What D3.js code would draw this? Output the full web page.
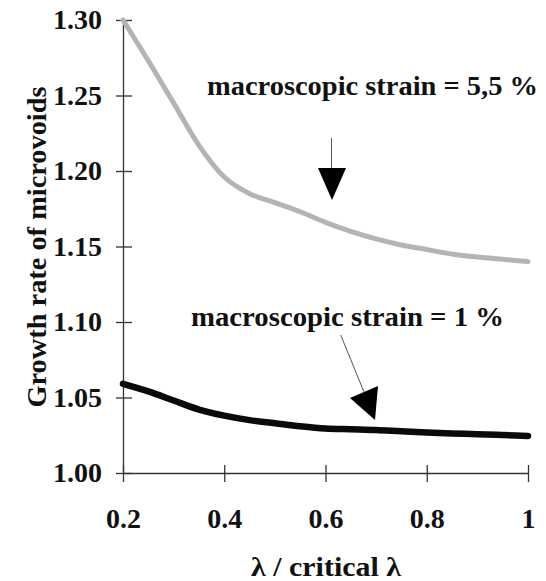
<!DOCTYPE html>
<html>
<head>
<meta charset="utf-8">
<script src="https://cdn.jsdelivr.net/npm/d3@7"></script>
<style>
  body { margin: 0; background: #fff; }
  svg { display: block; }
  text { font-family: "Liberation Serif", "Times New Roman", serif; font-weight: bold; fill: #111; }
</style>
</head>
<body>
<svg id="chart" width="546" height="581"></svg>
<script>
// ---- data ----
const lambdaRatio = [0.2, 0.25, 0.3, 0.35, 0.4, 0.45, 0.5, 0.55, 0.6, 0.65, 0.7, 0.75, 0.8, 0.85, 0.9, 0.95, 1.0];
const strain55 = [1.300, 1.273, 1.245, 1.217, 1.196, 1.185, 1.179, 1.173, 1.166, 1.160, 1.155, 1.151, 1.148, 1.145, 1.143, 1.1415, 1.140];
const strain1  = [1.059, 1.054, 1.048, 1.042, 1.038, 1.035, 1.033, 1.031, 1.0295, 1.029, 1.0285, 1.0276, 1.0268, 1.0262, 1.0257, 1.0251, 1.0245];
const xTicks = [0.2, 0.4, 0.6, 0.8, 1.0];
const xTickLabels = ["0.2", "0.4", "0.6", "0.8", "1"];
const yTicks = [1.00, 1.05, 1.10, 1.15, 1.20, 1.25, 1.30];
const yTickLabels = ["1.00", "1.05", "1.10", "1.15", "1.20", "1.25", "1.30"];
const seriesLabels = ["macroscopic strain = 5,5 %", "macroscopic strain = 1 %"];
const xTitle = "λ / critical λ";
const yTitle = "Growth rate of microvoids";

// ---- layout ----
const svg = d3.select("#chart");
const x = d3.scaleLinear().domain([0.2, 1.0]).range([123, 528]);
const y = d3.scaleLinear().domain([1.0, 1.3]).range([473, 20]);
const serif = "'Liberation Serif', 'Times New Roman', serif";

// axes
const yAxis = d3.axisLeft(y).tickValues(yTicks).tickSize(0).tickSizeOuter(0)
  .tickFormat((d, i) => yTickLabels[i]).tickPadding(21);
const gy = svg.append("g").attr("transform", `translate(${x(0.2)},0)`).call(yAxis);
gy.select(".domain").attr("stroke", "#333").attr("stroke-width", 1.3);
gy.selectAll(".tick line").attr("x1", -7).attr("x2", 9).attr("stroke", "#333").attr("stroke-width", 1.3);
gy.selectAll(".tick text").attr("font-size", 28).style("font-family", serif).attr("fill", "#111");

const xAxis = d3.axisBottom(x).tickValues(xTicks).tickSize(0).tickSizeOuter(0)
  .tickFormat((d, i) => xTickLabels[i]);
const gx = svg.append("g").attr("transform", `translate(0,${y(1.0)})`).call(xAxis);
gx.select(".domain").attr("stroke", "#333").attr("stroke-width", 1.3);
gx.selectAll(".tick line").attr("y1", -8).attr("y2", 9).attr("stroke", "#333").attr("stroke-width", 1.3);
gx.selectAll(".tick text").attr("font-size", 28).style("font-family", serif)
  .attr("y", 55).attr("dy", 0).attr("fill", "#111");

// axis titles
svg.append("text").attr("x", 326).attr("y", 576).attr("text-anchor", "middle")
  .attr("font-size", 28).attr("textLength", 150).attr("lengthAdjust", "spacingAndGlyphs").text(xTitle);
svg.append("text").attr("transform", "translate(46,247) rotate(-90)").attr("text-anchor", "middle")
  .attr("font-size", 27).attr("textLength", 321).attr("lengthAdjust", "spacingAndGlyphs").text(yTitle);

// curves
const line = d3.line().x((d, i) => x(lambdaRatio[i])).y(d => y(d)).curve(d3.curveMonotoneX);
svg.append("path").datum(strain55).attr("d", line).attr("fill", "none")
  .attr("stroke", "#b4b4b4").attr("stroke-width", 5).attr("stroke-linecap", "round");
svg.append("path").datum(strain1).attr("d", line).attr("fill", "none")
  .attr("stroke", "#0a0a0a").attr("stroke-width", 6.5).attr("stroke-linecap", "round");

// annotations
svg.append("text").attr("x", 207).attr("y", 95).attr("font-size", 27)
  .attr("textLength", 331).attr("lengthAdjust", "spacingAndGlyphs").text(seriesLabels[0]);
svg.append("text").attr("x", 191).attr("y", 326).attr("font-size", 27)
  .attr("textLength", 313).attr("lengthAdjust", "spacingAndGlyphs").text(seriesLabels[1]);

// arrow 1
svg.append("line").attr("x1", 331.5).attr("y1", 138).attr("x2", 331.5).attr("y2", 169)
  .attr("stroke", "#555").attr("stroke-width", 1);
svg.append("path").attr("d", "M318,168 L346,168 L332,200 Z").attr("fill", "#000");
// arrow 2
svg.append("line").attr("x1", 340.7).attr("y1", 335).attr("x2", 364).attr("y2", 392)
  .attr("stroke", "#555").attr("stroke-width", 1);
svg.append("path").attr("d", "M350,398 L378,386 L375,420 Z").attr("fill", "#000");
</script>
</body>
</html>
